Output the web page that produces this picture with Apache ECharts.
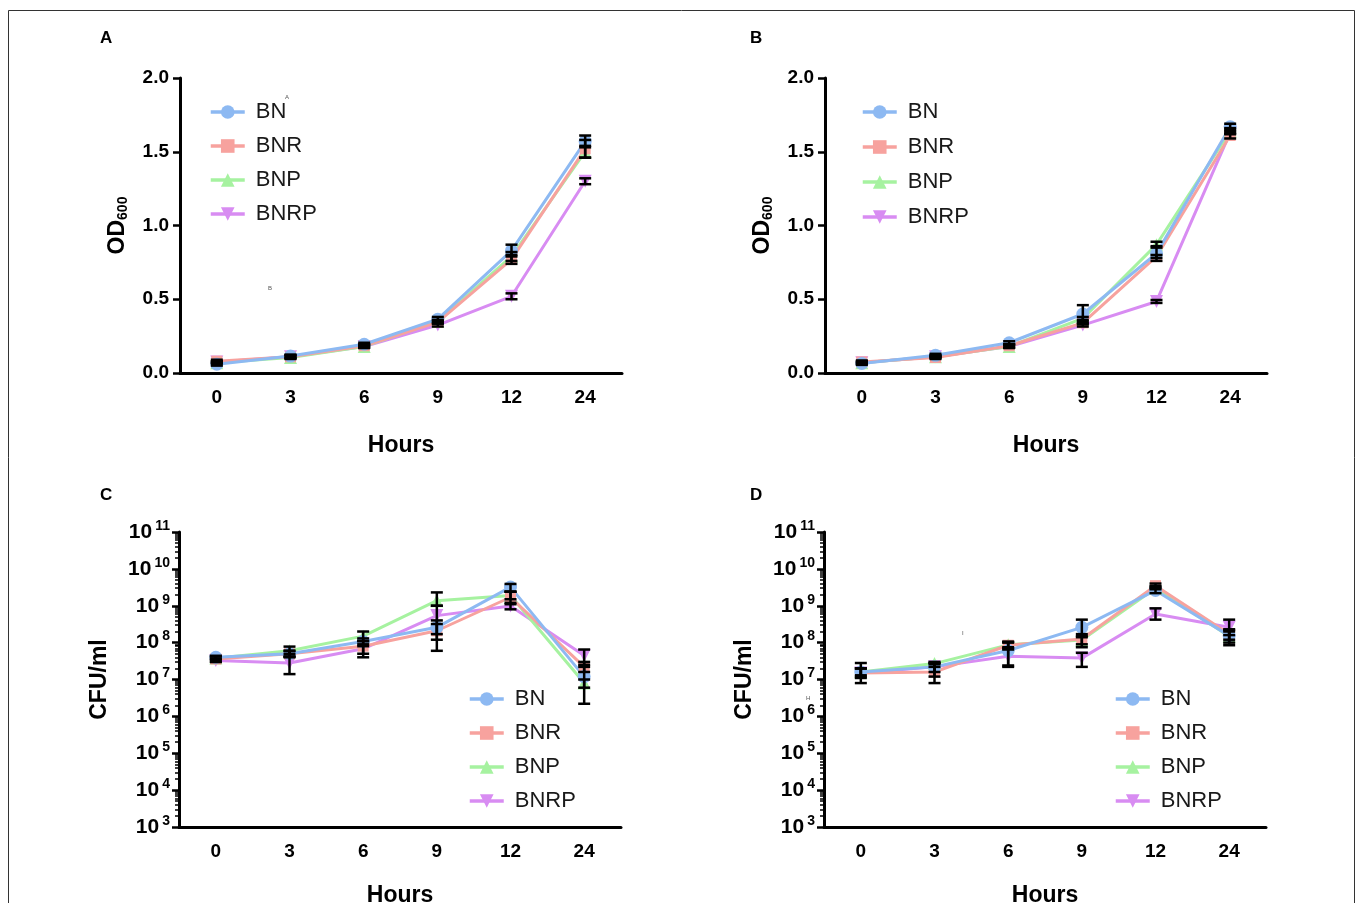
<!DOCTYPE html>
<html lang="en">
<head>
    <meta charset="UTF-8">
    <title>Growth curves</title>
    <style>
        body {
            margin: 0;
            background: #fff;
        }
        #main {
            width: 1358px;
            height: 903px;
        }
    </style>
</head>
<body>
    <div id="main"></div>
    <script src="https://cdn.jsdelivr.net/npm/echarts@6/dist/echarts.min.js"></script>
    <script>
        var hours = ['0', '3', '6', '9', '12', '24']
        var names = ['BN', 'BNR', 'BNP', 'BNRP']
        var colors = ['#8db9f2', '#f7a29e', '#a6f2a0', '#d88cf2']
        var symbols = ['circle', 'rect', 'triangle', 'triangle']
        var rotates = [0, 0, 0, 180]

        // panel A, OD600 mean and sd
        var aBN = [0.06, 0.115, 0.195, 0.365, 0.83, 1.57]
        var aBNR = [0.08, 0.11, 0.185, 0.345, 0.77, 1.52]
        var aBNP = [0.07, 0.105, 0.18, 0.35, 0.79, 1.50]
        var aBNRP = [0.075, 0.11, 0.18, 0.325, 0.52, 1.30]
        var aBNsd = [0.01, 0.01, 0.01, 0.015, 0.04, 0.04]
        var aBNRsd = [0.01, 0.01, 0.01, 0.01, 0.03, 0.06]
        var aBNPsd = [0.01, 0.01, 0.01, 0.01, 0.03, 0.04]
        var aBNRPsd = [0.005, 0.01, 0.01, 0.01, 0.02, 0.02]

        // panel B, OD600 mean and sd
        var bBN = [0.065, 0.12, 0.205, 0.40, 0.81, 1.67]
        var bBNR = [0.075, 0.105, 0.185, 0.34, 0.79, 1.61]
        var bBNP = [0.07, 0.11, 0.18, 0.37, 0.87, 1.64]
        var bBNRP = [0.07, 0.11, 0.18, 0.325, 0.485, 1.63]
        var bBNsd = [0.01, 0.01, 0.01, 0.06, 0.05, 0.02]
        var bBNRsd = [0.01, 0.01, 0.01, 0.01, 0.01, 0.02]
        var bBNPsd = [0.01, 0.01, 0.01, 0.01, 0.02, 0.02]
        var bBNRPsd = [0.005, 0.005, 0.01, 0.01, 0.01, 0.01]

        // panel C, CFU/ml mean, low and high end of error bar
        var cBN = [4.0e7, 5.0e7, 1.07e8, 2.6e8, 3.2e9, 1.2e7]
        var cBNR = [3.6e7, 5.0e7, 8.0e7, 2.1e8, 1.7e9, 2.2e7]
        var cBNP = [3.8e7, 6.0e7, 1.5e8, 1.37e9, 1.9e9, 8.0e6]
        var cBNRP = [3.3e7, 2.8e7, 6.8e7, 5.4e8, 9.8e8, 4.5e7]
        var cBNlo = [3.6e7, 4.2e7, 8.0e7, 1.7e8, 2.4e9, 2.2e6]
        var cBNhi = [4.4e7, 6.0e7, 1.3e8, 4.0e8, 3.9e9, 2.2e7]
        var cBNRlo = [3.0e7, 4.0e7, 5.0e7, 1.2e8, 1.1e9, 1.6e7]
        var cBNRhi = [4.2e7, 6.0e7, 1.1e8, 3.2e8, 2.4e9, 3.0e7]
        var cBNPlo = [3.4e7, 5.0e7, 1.1e8, 1.0e9, 1.5e9, 6.0e6]
        var cBNPhi = [4.2e7, 7.8e7, 2.0e8, 2.3e9, 2.4e9, 1.0e7]
        var cBNRPlo = [3.0e7, 1.4e7, 4.0e7, 6.0e7, 8.0e8, 2.5e7]
        var cBNRPhi = [3.6e7, 4.2e7, 9.0e7, 1.0e9, 1.2e9, 6.5e7]

        // panel D, CFU/ml mean, low and high end of error bar
        var dBN = [1.6e7, 2.2e7, 6.1e7, 2.6e8, 2.6e9, 1.55e8]
        var dBNR = [1.5e7, 1.6e7, 8.5e7, 1.26e8, 3.5e9, 1.7e8]
        var dBNP = [1.6e7, 2.7e7, 8.7e7, 1.18e8, 3.0e9, 1.5e8]
        var dBNRP = [1.5e7, 2.2e7, 4.3e7, 3.8e7, 6.0e8, 2.6e8]
        var dBNlo = [8.0e6, 1.2e7, 2.4e7, 1.4e8, 2.2e9, 8.5e7]
        var dBNhi = [2.8e7, 2.6e7, 1.05e8, 4.2e8, 3.4e9, 2.2e8]
        var dBNRlo = [1.1e7, 8.0e6, 6.5e7, 7.5e7, 3.0e9, 1.2e8]
        var dBNRhi = [2.0e7, 2.8e7, 1.05e8, 1.7e8, 4.0e9, 2.3e8]
        var dBNPlo = [1.3e7, 2.2e7, 7.0e7, 9.0e7, 2.8e9, 1.0e8]
        var dBNPhi = [2.0e7, 3.0e7, 1.0e8, 1.5e8, 3.3e9, 2.0e8]
        var dBNRPlo = [1.2e7, 1.6e7, 2.2e7, 2.2e7, 4.2e8, 1.6e8]
        var dBNRPhi = [2.0e7, 2.8e7, 7.5e7, 5.3e7, 8.5e8, 4.2e8]

        var font = '"Liberation Sans", Arial, sans-serif'

        var minorVals = []
        for (var d = 3; d < 11; d++) {
            for (var k = 2; k < 10; k++) {
                minorVals.push(k * Math.pow(10, d))
            }
        }

        var myChart = echarts.init(document.getElementById('main'))

        function sdRange(mean, sd) {
            return mean.map(function(m, i) { return [i, m - sd[i], m + sd[i]] })
        }
        function loHi(lo, hi) {
            return lo.map(function(l, i) { return [i, l, hi[i]] })
        }

        function renderErr(params, api) {
            var top = api.coord([api.value(0), api.value(2)])
            var bot = api.coord([api.value(0), api.value(1)])
            var w = 6
            var st = { stroke: '#000', lineWidth: 2.5 }
            return {
                type: 'group',
                children: [
                    { type: 'line', shape: { x1: top[0], y1: top[1], x2: bot[0], y2: bot[1] }, style: st },
                    { type: 'line', shape: { x1: top[0] - w, y1: top[1], x2: top[0] + w, y2: top[1] }, style: st },
                    { type: 'line', shape: { x1: bot[0] - w, y1: bot[1], x2: bot[0] + w, y2: bot[1] }, style: st }
                ]
            }
        }

        var grids = [
            { left: 180, top: 78, width: 442, height: 295, outerBoundsMode: 'none' },
            { left: 825, top: 78, width: 442, height: 295, outerBoundsMode: 'none' },
            { left: 179, top: 532, width: 442, height: 295, outerBoundsMode: 'none' },
            { left: 824, top: 532, width: 442, height: 295, outerBoundsMode: 'none' }
        ]

        var xAxes = grids.map(function(g, i) {
            return {
                type: 'category',
                gridIndex: i,
                data: hours,
                boundaryGap: true,
                name: 'Hours',
                nameLocation: 'middle',
                nameGap: i < 2 ? 61 : 57,
                nameTextStyle: { fontSize: 23, fontWeight: 'bold', color: '#000', fontFamily: font },
                axisLine: { lineStyle: { color: '#000', width: 3 } },
                axisTick: { alignWithLabel: true, length: 7, lineStyle: { color: '#000', width: 2.5 } },
                axisLabel: { fontSize: 19, fontWeight: 'bold', color: '#000', margin: 15, fontFamily: font }
            }
        })

        var odName = {
            name: '{a|OD}{b|600}',
            nameLocation: 'middle',
            nameGap: 50,
            nameTextStyle: {
                fontFamily: font,
                rich: {
                    a: { fontSize: 23, fontWeight: 'bold', color: '#000', fontFamily: font },
                    b: { fontSize: 14, fontWeight: 'bold', color: '#000', fontFamily: font, padding: [11, 0, 0, 0] }
                }
            }
        }

        function linYAxis(gi) {
            return Object.assign({
                type: 'value',
                gridIndex: gi,
                min: 0,
                max: 2,
                interval: 0.5,
                splitLine: { show: false },
                axisLine: { show: true, lineStyle: { color: '#000', width: 3 } },
                axisTick: { show: true, length: 7, lineStyle: { color: '#000', width: 2.5 } },
                axisLabel: {
                    fontSize: 19, fontWeight: 'bold', color: '#000', margin: 11, fontFamily: font,
                    formatter: function(v) { return v.toFixed(1) }
                }
            }, odName)
        }

        function logYAxis(gi) {
            return {
                type: 'log',
                gridIndex: gi,
                position: 'left',
                min: 1e3,
                max: 1e11,
                logBase: 10,
                splitLine: { show: false },
                name: 'CFU/ml',
                nameLocation: 'middle',
                nameGap: 68,
                nameTextStyle: { fontSize: 23, fontWeight: 'bold', color: '#000', fontFamily: font },
                axisLine: { show: true, lineStyle: { color: '#000', width: 3 } },
                axisTick: { show: true, length: 7, lineStyle: { color: '#000', width: 2.5 } },
                axisLabel: {
                    margin: 9,
                    fontFamily: font,
                    formatter: function(v) {
                        return '{b|10}{s|' + Math.round(Math.log10(v)) + '}'
                    },
                    rich: {
                        b: { fontSize: 21, fontWeight: 'bold', color: '#000', fontFamily: font },
                        s: { fontSize: 14, fontWeight: 'bold', color: '#000', fontFamily: font, padding: [0, 0, 12, 3] }
                    }
                }
            }
        }

        function minorYAxis(gi) {
            return {
                type: 'log',
                gridIndex: gi,
                position: 'left',
                min: 1e3,
                max: 1e11,
                logBase: 10,
                splitLine: { show: false },
                axisLine: { show: false },
                axisLabel: { show: false },
                axisTick: { show: true, length: 4, customValues: minorVals, lineStyle: { color: '#000', width: 1.5 } }
            }
        }

        var yAxes = [linYAxis(0), linYAxis(1), logYAxis(2), logYAxis(3), minorYAxis(2), minorYAxis(3)]

        var panels = [
            { x: 0, y: 0, means: [aBN, aBNR, aBNP, aBNRP], errs: [sdRange(aBN, aBNsd), sdRange(aBNR, aBNRsd), sdRange(aBNP, aBNPsd), sdRange(aBNRP, aBNRPsd)] },
            { x: 1, y: 1, means: [bBN, bBNR, bBNP, bBNRP], errs: [sdRange(bBN, bBNsd), sdRange(bBNR, bBNRsd), sdRange(bBNP, bBNPsd), sdRange(bBNRP, bBNRPsd)] },
            { x: 2, y: 2, means: [cBN, cBNR, cBNP, cBNRP], errs: [loHi(cBNlo, cBNhi), loHi(cBNRlo, cBNRhi), loHi(cBNPlo, cBNPhi), loHi(cBNRPlo, cBNRPhi)] },
            { x: 3, y: 3, means: [dBN, dBNR, dBNP, dBNRP], errs: [loHi(dBNlo, dBNhi), loHi(dBNRlo, dBNRhi), loHi(dBNPlo, dBNPhi), loHi(dBNRPlo, dBNRPhi)] }
        ]

        var series = []
        panels.forEach(function(p) {
            // BN drawn last so it sits on top
            for (var s = 3; s >= 0; s--) {
                series.push({
                    name: names[s],
                    type: 'line',
                    xAxisIndex: p.x,
                    yAxisIndex: p.y,
                    data: p.means[s],
                    symbol: symbols[s],
                    symbolRotate: rotates[s],
                    symbolSize: s === 1 ? 11 : 13,
                    lineStyle: { color: colors[s], width: 3 },
                    itemStyle: { color: colors[s] },
                    z: 2
                })
            }
        })
        panels.forEach(function(p) {
            for (var s = 3; s >= 0; s--) {
                series.push({
                    type: 'custom',
                    xAxisIndex: p.x,
                    yAxisIndex: p.y,
                    data: p.errs[s],
                    renderItem: renderErr,
                    z: 5
                })
            }
        })

        function legendAt(left, top, gap) {
            return {
                data: names,
                orient: 'vertical',
                left: left,
                top: top,
                itemGap: gap,
                itemWidth: 34,
                itemHeight: 17,
                selectedMode: false,
                lineStyle: { width: 3.5 },
                textStyle: { fontSize: 22, lineHeight: 22, color: '#1a1a1a', fontFamily: font, padding: [0, 0, 0, 6] }
            }
        }

        function letter(t, x, y) {
            return { type: 'text', left: x, top: y, style: { text: t, fill: '#000', font: 'bold 17px ' + font } }
        }
        function stray(t, x, y) {
            return { type: 'text', left: x, top: y, style: { text: t, fill: '#555', font: '6px ' + font } }
        }

        var option = {
            animation: false,
            backgroundColor: '#fff',
            grid: grids,
            xAxis: xAxes,
            yAxis: yAxes,
            legend: [
                legendAt(204, 96, 12),
                legendAt(856, 96, 13),
                legendAt(463, 683, 12),
                legendAt(1109, 683, 12)
            ],
            series: series,
            graphic: [
                {
                    type: 'rect',
                    shape: { x: 8.5, y: 10.5, width: 1346, height: 900 },
                    style: { fill: 'none', stroke: '#333', lineWidth: 1 }
                },
                letter('A', 100, 30),
                letter('B', 750, 30),
                letter('C', 100, 487),
                letter('D', 750, 487),
                stray('A', 285, 94),
                stray('B', 268, 285),
                stray('I', 962, 630),
                stray('H', 806, 695)
            ]
        }
        myChart.setOption(option)
    </script>
</body>
</html>
